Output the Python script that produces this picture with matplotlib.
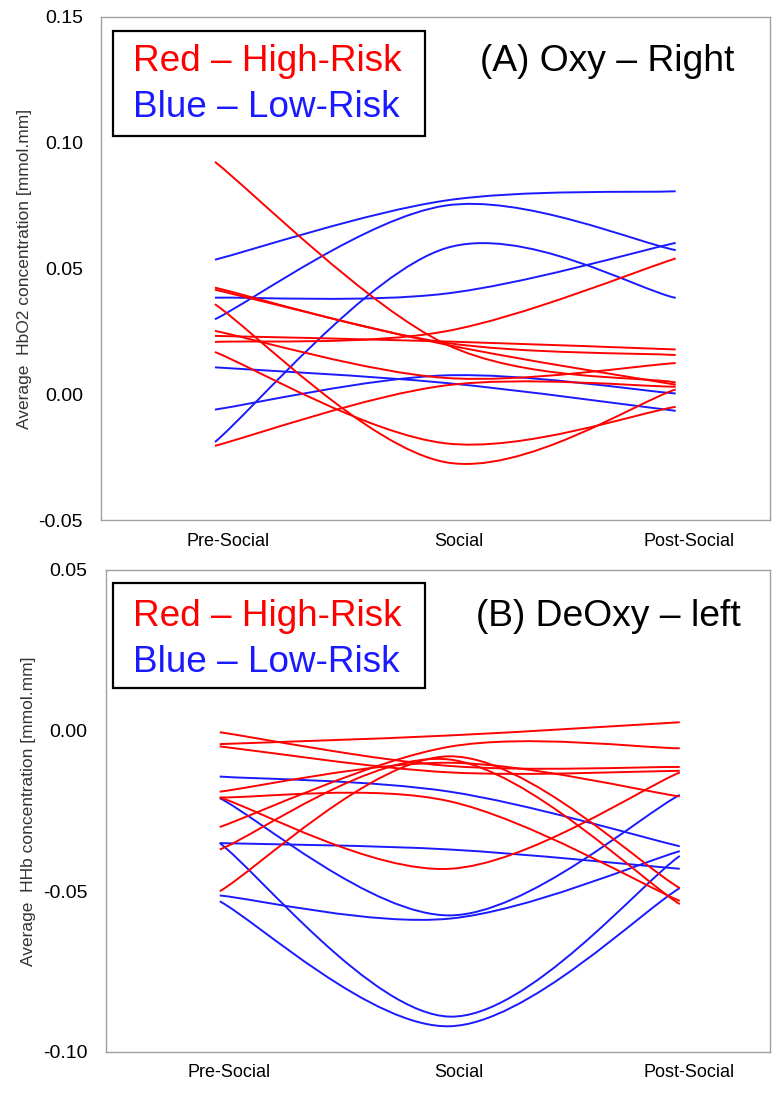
import matplotlib
matplotlib.use("Agg")
import matplotlib.pyplot as plt
import matplotlib.transforms as mtransforms
from matplotlib.path import Path
from matplotlib.patches import PathPatch, Rectangle
from matplotlib.ticker import FuncFormatter

plt.rcParams["font.family"] = ["Liberation Sans", "DejaVu Sans"]

CATS = ["Pre-Social", "Social", "Post-Social"]

# (A) Oxy - Right: one row per subject, values at Pre / Social / Post
OXY_HIGH = [
    [0.0924, 0.0200, 0.0047],
    [0.0424, 0.0205, 0.0156],
    [0.0416, 0.0198, 0.0038],
    [0.0358, -0.0270, 0.0019],
    [0.0252, 0.0065, 0.0124],
    [0.0232, 0.0210, 0.0178],
    [0.0208, 0.0250, 0.0540],
    [0.0168, -0.0195, -0.0050],
    [-0.0205, 0.0035, 0.0030],
]
OXY_LOW = [
    [0.0535, 0.0770, 0.0807],
    [0.0298, 0.0750, 0.0573],
    [-0.0190, 0.0580, 0.0383],
    [0.0384, 0.0400, 0.0602],
    [0.0107, 0.0045, -0.0066],
    [-0.0061, 0.0075, 0.0003],
]

# (B) DeOxy - left
DEOXY_HIGH = [
    [-0.0042, -0.0015, 0.0026],
    [-0.0500, -0.0080, -0.0490],
    [-0.0370, -0.0090, -0.0540],
    [-0.0300, -0.0050, -0.0055],
    [-0.0005, -0.0110, -0.0113],
    [-0.0049, -0.0130, -0.0125],
    [-0.0190, -0.0100, -0.0205],
    [-0.0208, -0.0220, -0.0530],
    [-0.0208, -0.0430, -0.0130],
]
DEOXY_LOW = [
    [-0.0143, -0.0190, -0.0360],
    [-0.0350, -0.0370, -0.0430],
    [-0.0210, -0.0575, -0.0200],
    [-0.0513, -0.0585, -0.0375],
    [-0.0350, -0.0890, -0.0390],
    [-0.0531, -0.0920, -0.0490],
]

RED, BLUE = "#ff0000", "#1a1aff"


def smooth_path(ys):
    """Excel-style smoothed line through the points (cubic Bezier segments)."""
    pts = list(enumerate(ys))
    n = len(pts)
    verts, codes = [pts[0]], [Path.MOVETO]
    for i in range(n - 1):
        p0 = pts[max(i - 1, 0)]
        p1, p2 = pts[i], pts[i + 1]
        p3 = pts[min(i + 2, n - 1)]
        c1 = (p1[0] + (p2[0] - p0[0]) / 6, p1[1] + (p2[1] - p0[1]) / 6)
        c2 = (p2[0] - (p3[0] - p1[0]) / 6, p2[1] - (p3[1] - p1[1]) / 6)
        verts += [c1, c2, p2]
        codes += [Path.CURVE4] * 3
    return Path(verts, codes)


def panel(ax, high, low, ylim, yticks, ylabel, title, xlim, lab_shift):
    for rows, col in ((low, BLUE), (high, RED)):
        for ys in rows:
            ax.add_patch(PathPatch(smooth_path(ys), fill=False, edgecolor=col, lw=1.4))
    ax.set_xlim(*xlim)
    ax.set_ylim(*ylim)
    ax.set_yticks(yticks)
    ax.yaxis.set_major_formatter(FuncFormatter(lambda v, _: f"{v:.2f}"))
    ax.set_xticks(range(len(CATS)))
    ax.set_xticklabels(CATS)
    ax.tick_params(axis="both", length=0)
    ax.tick_params(axis="y", pad=13, labelsize=14)
    ax.tick_params(axis="x", pad=9, labelsize=13)
    off = mtransforms.ScaledTranslation(lab_shift / 72, 0, ax.figure.dpi_scale_trans)
    for lab in ax.get_xticklabels():
        lab.set_transform(lab.get_transform() + off)
    ax.set_ylabel(ylabel, fontsize=12.5, color="#333333", labelpad=5)
    for s in ax.spines.values():
        s.set_color("#a0a0a0")
        s.set_linewidth(1.0)
    bx, by, bw, bh, tx, t1, t2 = title[1]
    ax.add_patch(Rectangle((bx, by), bw, bh, transform=ax.transAxes, fill=False,
                           edgecolor="black", lw=1.6, zorder=5))
    ax.text(tx, t1, "Red – High-Risk", color=RED, fontsize=26.6, va="center",
            transform=ax.transAxes, zorder=6)
    ax.text(tx, t2, "Blue – Low-Risk", color=BLUE, fontsize=26.6, va="center",
            transform=ax.transAxes, zorder=6)
    ax.text(0.757, t1, title[0], color="black", fontsize=26.8, va="center", ha="center",
            transform=ax.transAxes, zorder=6)


fig = plt.figure(figsize=(7.83, 10.95), dpi=100)
ax1 = fig.add_axes([0.129, 0.5251, 0.854, 0.4594])
ax2 = fig.add_axes([0.135, 0.0393, 0.848, 0.4402])

panel(ax1, OXY_HIGH, OXY_LOW, (-0.05, 0.15), [-0.05, 0.0, 0.05, 0.10, 0.15],
      "Average  HbO2 concentration [mmol.mm]",
      ("(A) Oxy – Right", (0.018, 0.763, 0.466, 0.209, 0.048, 0.911, 0.821)),
      (-0.4946, 2.408), 9.4)
panel(ax2, DEOXY_HIGH, DEOXY_LOW, (-0.10, 0.05), [-0.10, -0.05, 0.0, 0.05],
      "Average  HHb concentration [mmol.mm]",
      ("(B) DeOxy – left", (0.0105, 0.755, 0.47, 0.218, 0.0407, 0.9025, 0.809)),
      (-0.4957, 2.391), 6.5)

fig.savefig("out.png", dpi=100)
